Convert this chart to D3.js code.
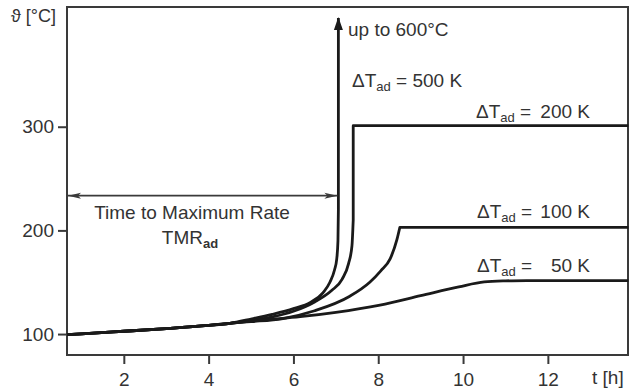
<!DOCTYPE html>
<html lang="en">
<head>
<meta charset="UTF-8">
<title>Adiabatic runaway curves</title>
<script src="https://d3js.org/d3.v7.min.js"></script>
<style>
    body { margin: 0; background: #fff; }
    svg { display: block; font-family: "Liberation Sans", Arial, sans-serif; }
</style>
</head>
<body>
<svg width="635" height="389">
    <defs>
        <marker id="tipUp" markerWidth="14" markerHeight="10" refX="12" refY="5" orient="auto" markerUnits="userSpaceOnUse">
            <polygon points="13,5 0,0.5 0,9.5" fill="#1a1a1a" />
        </marker>
        <marker id="tmrHead" markerWidth="14" markerHeight="8" refX="13" refY="4" orient="auto-start-reverse" markerUnits="userSpaceOnUse">
            <polygon points="0,1 13,4 0,7 3,4" fill="#3a3a3a" />
        </marker>
    </defs>
</svg>
<script>
// axis ticks
const xTicks = [2, 4, 6, 8, 10, 12];
const yTicks = [100, 200, 300];

// shared start of all curves (t in h, temperature in °C)
const commonT = [0.66, 1, 2, 3, 4, 4.5];
const commonV = [99.5, 100.2, 102.7, 105.3, 108.4, 110.4];

// each ΔT_ad curve after the common part
const t500 = [5.0, 5.5, 6.0, 6.4, 6.7, 6.86, 6.97, 7.02, 7.05, 7.06, 7.06];
const v500 = [114.5, 119, 124.5, 130.5, 140, 150, 162, 172, 190, 220, 405];

const t200 = [5.0, 5.5, 6.0, 6.5, 6.9, 7.15, 7.3, 7.38, 7.41, 7.41, 13.9];
const v200 = [113, 116.5, 122, 131, 142, 153, 168, 185, 210, 301, 301];

const t100 = [5.0, 5.75, 6.5, 7.33, 7.8, 8.06, 8.28, 8.44, 8.51, 13.9];
const v100 = [112, 115, 122.5, 136.5, 150, 161, 172.5, 191, 203, 203];

const t50 = [5.0, 5.5, 6.16, 7.0, 8.04, 9.0, 9.9, 10.5, 11.0, 11.5, 13.9];
const v50 = [112.5, 114.3, 116.8, 121, 128, 137, 145.5, 150.3, 151.3, 151.6, 151.6];

// time to maximum rate arrow
const tmrT = [0.66, 7.06];
const tmrV = 233.5;

const series = [
    { t: t500, v: v500, arrow: true },
    { t: t200, v: v200 },
    { t: t100, v: v100 },
    { t: t50, v: v50 }
];

const svg = d3.select("svg");

const x = d3.scaleLinear().domain([0.66, 13.89]).range([67, 628]);
const y = d3.scaleLinear().domain([79.8, 415.5]).range([355, 7]);

const ink = "#1a1a1a";
const frame = "#3a3a3a";
const textCol = "#333";

// frame
svg.append("rect")
    .attr("x", x.range()[0]).attr("y", y.range()[1])
    .attr("width", x.range()[1] - x.range()[0])
    .attr("height", y.range()[0] - y.range()[1])
    .attr("fill", "none").attr("stroke", frame).attr("stroke-width", 2);

// x axis
const xAxis = svg.append("g")
    .attr("transform", `translate(0,${y.range()[0]})`)
    .call(d3.axisBottom(x).tickValues(xTicks).tickSize(9).tickPadding(9).tickFormat(d3.format("d")));
xAxis.select(".domain").remove();
xAxis.selectAll(".tick line").attr("stroke", frame).attr("stroke-width", 2);
xAxis.selectAll(".tick text")
    .attr("fill", textCol).attr("font-size", 19)
    .attr("font-family", "Liberation Sans, Arial, sans-serif");

// y axis
const yAxis = svg.append("g")
    .attr("transform", `translate(${x.range()[0]},0)`)
    .call(d3.axisLeft(y).tickValues(yTicks).tickSize(9).tickPadding(4).tickFormat(d3.format("d")));
yAxis.select(".domain").remove();
yAxis.selectAll(".tick line").attr("stroke", frame).attr("stroke-width", 2);
yAxis.selectAll(".tick text")
    .attr("fill", textCol).attr("font-size", 19)
    .attr("font-family", "Liberation Sans, Arial, sans-serif");

// axis titles
svg.append("text").attr("x", 11).attr("y", 22)
    .attr("font-size", 18).attr("fill", textCol).text("ϑ [°C]");
svg.append("text").attr("x", 592).attr("y", 384)
    .attr("font-size", 19).attr("fill", textCol).text("t [h]");

// curves: smooth rise, then straight vertical / plateau part
const smooth = d3.line().x(d => x(d[0])).y(d => y(d[1])).curve(d3.curveMonotoneX);
const straight = d3.line().x(d => x(d[0])).y(d => y(d[1]));

series.forEach(s => {
    const pts = commonT.map((t, i) => [t, commonV[i]])
        .concat(s.t.map((t, i) => [t, s.v[i]]));
    let k = pts.length - 1;
    for (let i = 0; i < pts.length - 1; i++) {
        if (pts[i + 1][0] === pts[i][0] || pts[i + 1][1] === pts[i][1]) { k = i; break; }
    }
    const d = smooth(pts.slice(0, k + 1)) + straight(pts.slice(k)).replace(/^M/, "L");
    const p = svg.append("path")
        .attr("d", d)
        .attr("fill", "none")
        .attr("stroke", ink)
        .attr("stroke-width", 2.8)
        .attr("stroke-linejoin", "round");
    if (s.arrow) p.attr("marker-end", "url(#tipUp)");
});

// TMR double arrow
svg.append("line")
    .attr("x1", x(tmrT[0]) + 1).attr("x2", x(tmrT[1]) - 1)
    .attr("y1", y(tmrV)).attr("y2", y(tmrV))
    .attr("stroke", frame).attr("stroke-width", 1.8)
    .attr("marker-start", "url(#tmrHead)")
    .attr("marker-end", "url(#tmrHead)");

svg.append("text").attr("x", 192).attr("y", 219)
    .attr("text-anchor", "middle").attr("font-size", 19).attr("fill", textCol)
    .text("Time to Maximum Rate");
const tmr = svg.append("text").attr("x", 190).attr("y", 244)
    .attr("text-anchor", "middle").attr("font-size", 19).attr("fill", textCol);
tmr.append("tspan").text("TMR");
tmr.append("tspan").attr("font-size", 13).attr("dy", 4).attr("font-weight", "bold").text("ad");

// labels
svg.append("text").attr("x", 348).attr("y", 36)
    .attr("font-size", 19).attr("fill", textCol).text("up to 600\u00b0C");

function deltaLabel(xs, yb, value, anchorEnd) {
    const t = svg.append("text").attr("x", xs).attr("y", yb)
        .attr("font-size", 19).attr("fill", textCol);
    t.append("tspan").text("\u0394T");
    t.append("tspan").attr("font-size", 13).attr("dy", 4).text("ad");
    t.append("tspan").attr("dy", -4).text(anchorEnd == null ? " = " + value : " =");
    if (anchorEnd != null) {
        svg.append("text").attr("x", anchorEnd).attr("y", yb)
            .attr("text-anchor", "end").attr("font-size", 19).attr("fill", textCol)
            .text(value);
    }
}
deltaLabel(352, 87, "500 K");
deltaLabel(476, 118, "200 K", 590);
deltaLabel(477, 218, "100 K", 590);
deltaLabel(477, 272, "50 K", 590);
</script>
</body>
</html>
